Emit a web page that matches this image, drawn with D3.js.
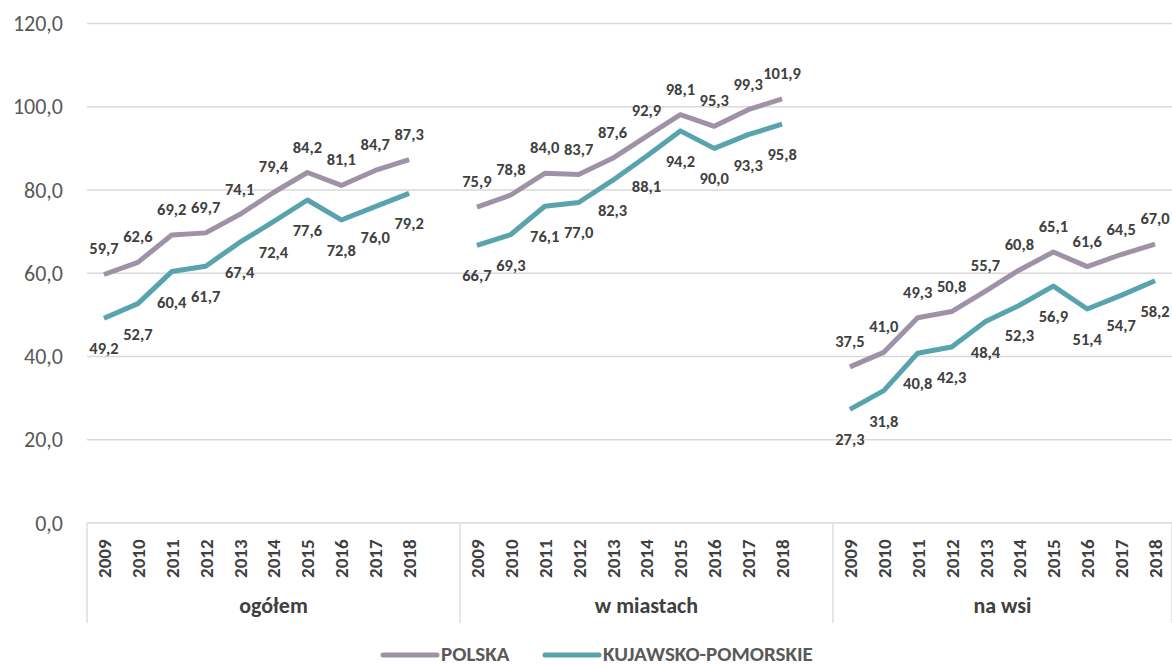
<!DOCTYPE html>
<meta charset="utf-8">
<style>
body { margin: 0; background: #fff; }
svg text { font-family: Carlito, Lato, "Open Sans", sans-serif; }
.grid line { stroke: #d9d9d9; stroke-width: 1.3; }
.ylab { fill: #595959; font-size: 22px; text-anchor: end; }
.year { fill: #404040; font-size: 19px; font-weight: bold; }
.group { fill: #404040; font-size: 22px; font-weight: bold; text-anchor: middle; }
.dlab { fill: #404040; font-size: 16.5px; font-weight: bold; text-anchor: middle; }
.leg { fill: #595959; font-size: 21px; font-weight: bold; }
</style>
<svg id="chart" width="1172" height="666"></svg>
<script src="https://cdn.jsdelivr.net/npm/d3@7"></script>
<script>

let groups = ["ogółem", "w miastach", "na wsi"];
let years = ["2009", "2010", "2011", "2012", "2013", "2014", "2015", "2016", "2017", "2018"];
let yTicks = [0, 20, 40, 60, 80, 100, 120];

let polska = [
  [59.7, 62.6, 69.2, 69.7, 74.1, 79.4, 84.2, 81.1, 84.7, 87.3],
  [75.9, 78.8, 84.0, 83.7, 87.6, 92.9, 98.1, 95.3, 99.3, 101.9],
  [37.5, 41.0, 49.3, 50.8, 55.7, 60.8, 65.1, 61.6, 64.5, 67.0]
];
let kujawsko = [
  [49.2, 52.7, 60.4, 61.7, 67.4, 72.4, 77.6, 72.8, 76.0, 79.2],
  [66.7, 69.3, 76.1, 77.0, 82.3, 88.1, 94.2, 90.0, 93.3, 95.8],
  [27.3, 31.8, 40.8, 42.3, 48.4, 52.3, 56.9, 51.4, 54.7, 58.2]
];

let seriesNames = ["POLSKA", "KUJAWSKO-POMORSKIE"];
let colors = ["#a092a6", "#58a4ae"];

let svg = d3.select("#chart");
let plotLeft = 87, plotRight = 1172, plotTop = 23.5, plotBottom = 523;

// slots: 10 years per group, one empty slot between groups
let slots = [];
groups.forEach((g, gi) => {
  years.forEach((y, yi) => slots.push({ key: gi + "-" + y, group: gi, year: y, yi: yi }));
  if (gi < groups.length - 1) slots.push({ key: gi + "-gap", group: gi, year: null });
});

let x = d3.scaleBand().domain(slots.map(d => d.key)).range([plotLeft, plotRight]);
let y = d3.scaleLinear().domain([0, 120]).range([plotBottom, plotTop]);
let fmt = v => d3.format(".1f")(v).replace(".", ",");

// gridlines
svg.append("g").attr("class", "grid")
  .selectAll("line").data(yTicks).enter().append("line")
  .attr("x1", plotLeft).attr("x2", plotRight)
  .attr("y1", d => y(d)).attr("y2", d => y(d));

svg.append("g").selectAll("text").data(yTicks).enter().append("text")
  .attr("class", "ylab")
  .attr("x", 63).attr("y", d => y(d) + 7.5)
  .text(fmt);

// category axis: group separators
let sepX = [plotLeft]
  .concat(groups.slice(1).map((g, gi) => x(gi + "-gap") + x.bandwidth()))
  .concat([plotRight]);
svg.append("g").selectAll("line").data(sepX).enter().append("line")
  .attr("x1", d => d).attr("x2", d => d)
  .attr("y1", plotBottom).attr("y2", 623)
  .attr("stroke", "#d9d9d9").attr("stroke-width", 1.3);

svg.append("g").selectAll("text").data(slots.filter(d => d.year)).enter().append("text")
  .attr("class", "year")
  .attr("transform", d => "translate(" + (x(d.key) + x.bandwidth() / 2 + 7) + ",578) rotate(-90)")
  .text(d => d.year);

svg.append("g").selectAll("text").data(groups).enter().append("text")
  .attr("class", "group")
  .attr("x", (d, i) => (sepX[i] + sepX[i + 1]) / 2)
  .attr("y", 613)
  .text(d => d);

// lines and labels
let line = d3.line()
  .x(d => x(d.key) + x.bandwidth() / 2)
  .y(d => y(d.v));

[polska, kujawsko].forEach((series, si) => {
  series.forEach((vals, gi) => {
    let pts = vals.map((v, yi) => ({ key: gi + "-" + years[yi], v: v }));
    svg.append("path").datum(pts)
      .attr("d", line)
      .attr("fill", "none")
      .attr("stroke", colors[si])
      .attr("stroke-width", 5)
      .attr("stroke-linejoin", "round");
    svg.append("g").selectAll("text").data(pts).enter().append("text")
      .attr("class", "dlab")
      .attr("x", d => x(d.key) + x.bandwidth() / 2)
      .attr("y", d => y(d.v) + (si === 0 ? -20 : 36))
      .text(d => fmt(d.v));
  });
});

// legend
let legX = [383, 545];
seriesNames.forEach((n, i) => {
  svg.append("line")
    .attr("x1", legX[i]).attr("x2", legX[i] + 54)
    .attr("y1", 655).attr("y2", 655)
    .attr("stroke", colors[i]).attr("stroke-width", 5).attr("stroke-linecap", "round");
  svg.append("text").attr("class", "leg")
    .attr("x", legX[i] + 58).attr("y", 661)
    .text(n);
});

</script>
